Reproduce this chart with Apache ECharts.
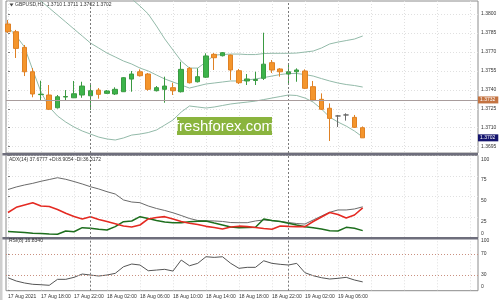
<!DOCTYPE html>
<html><head><meta charset="utf-8">
<script src="https://cdn.jsdelivr.net/npm/echarts@6/dist/echarts.min.js"></script>
<style>html,body{margin:0;padding:0;background:#fff}#c{width:500px;height:300px}</style>
</head><body><div id="c"></div>
<script>
// ---------- data ----------
const headerMain = 'GBPUSD,H1  1.3710 1.3711 1.3702 1.3702';
const headerAdx = 'ADX(14) 37.6777 +DI:8.9054 -DI:36.3172';
const headerRsi = 'RSI(8) 16.8340';
const watermark = 'freshforex.com';
const timeLabels = ['17 Aug 2021','17 Aug 18:00','17 Aug 22:00','18 Aug 02:00','18 Aug 06:00','18 Aug 10:00','18 Aug 14:00','18 Aug 18:00','18 Aug 22:00','19 Aug 02:00','19 Aug 06:00'];
const separatorBars = [10, 34];
const opens  = [1.37921,1.37860,1.37736,1.37543,1.37362,1.37359,1.37258,1.37343,1.37337,1.37359,1.37353,1.37398,1.37372,1.37367,1.37385,1.37485,1.37543,1.37525,1.37393,1.37404,1.37417,1.37385,1.37570,1.37464,1.37500,1.37681,1.37670,1.37675,1.37551,1.37470,1.37474,1.37491,1.37615,1.37565,1.37525,1.37543,1.37549,1.37425,1.37325,1.37254,1.37193,1.37201,1.37182,1.3710];
const closes = [1.37860,1.37728,1.37543,1.37367,1.37365,1.37246,1.37345,1.37347,1.37369,1.37430,1.37393,1.37364,1.37391,1.37404,1.37496,1.37525,1.37512,1.37404,1.37417,1.37430,1.37393,1.37562,1.37456,1.37504,1.37668,1.37654,1.37694,1.37557,1.37456,1.37486,1.37482,1.37603,1.37557,1.37543,1.37543,1.37557,1.37412,1.37319,1.37246,1.37174,1.37193,1.37201,1.37103,1.3702];
const lows   = [1.37850,1.37652,1.37509,1.37341,1.37319,1.37240,1.37252,1.37314,1.37335,1.37337,1.37240,1.37330,1.37367,1.37359,1.37383,1.37385,1.37505,1.37393,1.37387,1.37298,1.37359,1.37379,1.37450,1.37458,1.37494,1.37557,1.37664,1.37478,1.37446,1.37438,1.37438,1.37478,1.37533,1.37504,1.37454,1.37464,1.37406,1.37311,1.37240,1.36995,1.37106,1.37156,1.37098,1.3702];
const highs  = [1.37953,1.37874,1.37755,1.37572,1.37472,1.37438,1.37359,1.37398,1.37470,1.37464,1.37438,1.37414,1.37398,1.37420,1.37501,1.37549,1.37562,1.37533,1.37430,1.37504,1.37456,1.37622,1.37581,1.37570,1.37689,1.37691,1.37699,1.37679,1.37565,1.37525,1.37543,1.37852,1.37636,1.37572,1.37612,1.37570,1.37562,1.37470,1.37372,1.37293,1.37201,1.37214,1.37201,1.3711];
const bbUpper  = [1.38507,1.38522,1.38546,1.38562,1.38570,1.38570,1.38562,1.38546,1.38522,1.38491,1.38451,1.38404,1.38348,1.38285,1.38206,1.38119,1.38063,1.38000,1.37905,1.37803,1.37715,1.37628,1.37572,1.37572,1.37620,1.37675,1.37679,1.37683,1.37683,1.37679,1.37679,1.37687,1.37689,1.37689,1.37689,1.37691,1.37699,1.37707,1.37731,1.37763,1.37778,1.37790,1.37802,1.37826];
const bbMiddle = [1.38325,1.38269,1.38214,1.38158,1.38103,1.38047,1.37992,1.37937,1.37881,1.37826,1.37770,1.37731,1.37691,1.37660,1.37628,1.37604,1.37572,1.37549,1.37517,1.37486,1.37462,1.37438,1.37414,1.37430,1.37446,1.37454,1.37462,1.37470,1.37470,1.37478,1.37486,1.37497,1.37509,1.37521,1.37529,1.37529,1.37521,1.37509,1.37489,1.37470,1.37454,1.37442,1.37434,1.37422];
const bbLower  = [1.37897,1.37826,1.37739,1.37557,1.37383,1.37264,1.37193,1.37145,1.37106,1.37074,1.37050,1.37026,1.37011,1.37003,1.37019,1.37042,1.37050,1.37062,1.37082,1.37121,1.37161,1.37224,1.37272,1.37264,1.37256,1.37264,1.37276,1.37288,1.37296,1.37303,1.37311,1.37323,1.37335,1.37347,1.37359,1.37355,1.37335,1.37303,1.37248,1.37184,1.37145,1.37113,1.37074,1.37026];
const adx     = [58.6,61.7,64.1,66.1,68.6,70.7,72.9,71.0,68.3,65.3,62.0,59.3,56.0,53.2,46.0,43.5,42.7,38.7,35.7,33.3,30.5,27.2,23.6,21.2,20.8,20.6,20.0,18.7,18.5,18.5,20.6,21.8,20.9,20.0,18.7,17.5,16.9,21.8,26.6,31.1,33.9,33.9,35.1,37.7];
const minusDI = [30.8,37.1,39.9,42.7,38.7,38.1,34.5,29.9,26.0,23.0,25.8,22.4,20.0,17.3,14.5,13.3,15.7,23.0,24.8,25.8,23.0,20.0,17.8,16.3,14.1,12.7,10.9,13.3,14.3,13.8,12.7,11.5,10.5,14.5,14.1,13.8,13.7,20.0,25.4,30.8,28.4,24.2,27.8,36.3];
const plusDI  = [7.9,7.3,6.7,5.7,5.3,4.8,4.5,8.5,7.6,12.5,11.7,10.6,9.7,13.7,19.7,20.6,25.8,23.6,21.2,19.3,18.5,18.5,19.7,20.2,20.6,18.1,15.7,13.3,12.5,12.7,12.9,23.0,21.2,20.0,17.8,15.7,13.7,12.3,10.9,8.8,8.5,12.9,11.7,8.9];
const rsi     = [24.6,18.5,14.7,12.2,11.4,10.3,21.7,21.7,25.5,31.8,29.9,28.0,29.9,33.1,45.7,50.9,49.0,38.1,39.4,40.8,37.5,58.5,47.6,52.2,64.8,63.6,64.8,52.2,42.7,44.6,44.6,57.1,52.2,50.3,49.0,52.2,34.3,28.6,24.8,22.3,23.6,25.5,20.4,16.8];
const priceTicks = [1.3695,1.3710,1.3725,1.3740,1.3755,1.3770,1.3785,1.3800];
const adxTicks = [0,25,50,75,100];
const rsiTicks = [0,30,70,100];
const rsiLevels = [30,70];
const hLinePrice = 1.3732;

// ---------- layout ----------
const FONT = '"Liberation Sans", Arial, sans-serif';
const GL = 6, GR = 22, PLOT_R = 478;
const xMin = -0.2425, xMax = 56.976;
const grids = [
  {top: 1, height: 152},
  {top: 155.3, height: 82.7},
  {top: 238.3, height: 52.4}
].map(g => Object.assign({left: GL, right: GR, show: true, borderColor: '#8c8c8c', borderWidth: 1}, g));

const xTickVals = [];
for (let v = 0; v <= 56; v += 4) xTickVals.push(v);
const xLabelVals = timeLabels.map((_, i) => i * 4);

const xAxes = [0, 1, 2].map(i => ({
  type: 'value', gridIndex: i, min: xMin, max: xMax,
  axisLine: {show: false},
  axisTick: {show: false, customValues: xTickVals},
  axisLabel: {show: i === 2, customValues: xLabelVals,
    formatter: v => timeLabels[Math.round(v / 4)],
    fontSize: 5, color: '#333', align: 'left', margin: 3, fontFamily: FONT},
  splitLine: {show: true, lineStyle: {color: '#e0e0e0', type: [1, 2], width: 1}}
}));

function nearestLabel(ticks, pos) {
  return v => {
    let best = 0;
    for (let k = 1; k < pos.length; k++) if (Math.abs(pos[k] - v) < Math.abs(pos[best] - v)) best = k;
    return String(ticks[best]);
  };
}
const adxPx = 82.7 / 100;
const adxLabelPos = adxTicks.map(t => t === 0 ? t + 4.7 / adxPx : t - 4 / adxPx);
const rsiPx = 52.4 / 100;
const rsiLabelPos = rsiTicks.map(t => t === 0 ? t + 4 / rsiPx : (t === 100 ? t - 2 / rsiPx : t));

const yAxes = [
  {type: 'value', gridIndex: 0, position: 'right', min: 1.36900, max: 1.38103,
    axisLine: {show: false},
    axisTick: {show: true, length: 2, customValues: priceTicks, lineStyle: {color: '#808080'}},
    axisLabel: {customValues: priceTicks, formatter: v => v.toFixed(4), fontSize: 5, color: '#333', margin: 3, fontFamily: FONT},
    splitLine: {show: true, lineStyle: {color: '#e0e0e0', type: [1, 2]}}},
  {type: 'value', gridIndex: 1, position: 'right', min: 0, max: 100,
    axisLine: {show: false},
    axisTick: {show: true, length: 2, customValues: adxTicks, lineStyle: {color: '#808080'}},
    axisLabel: {customValues: adxLabelPos, formatter: nearestLabel(adxTicks, adxLabelPos), fontSize: 5, color: '#333', margin: 3, fontFamily: FONT},
    splitLine: {show: true, lineStyle: {color: '#e0e0e0', type: [1, 2]}}},
  {type: 'value', gridIndex: 2, position: 'right', min: 0, max: 100,
    axisLine: {show: false},
    axisTick: {show: true, length: 2, customValues: rsiTicks, lineStyle: {color: '#808080'}},
    axisLabel: {customValues: rsiLabelPos, formatter: nearestLabel(rsiTicks, rsiLabelPos), fontSize: 5, color: '#333', margin: 3, fontFamily: FONT},
    splitLine: {show: false}}
];

const sepLines = separatorBars.map(b => ({xAxis: b, lineStyle: {color: '#7a7a7a', type: [2, 2], width: 1}, label: {show: false}}));
const pts = arr => arr.map((v, i) => [i, v]);
const lineS = (arr, gi, color, width, extra) => Object.assign({
  type: 'line', xAxisIndex: gi, yAxisIndex: gi, data: pts(arr), showSymbol: false, symbol: 'none',
  lineStyle: {color, width}, silent: true, animation: false, z: 3
}, extra || {});
const mlBase = {silent: true, symbol: ['none', 'none'], animation: false, precision: 6};

const candleData = opens.map((o, i) => [i, o, closes[i], lows[i], highs[i]]);
const lastClose = closes[closes.length - 1];
const priceLabel = (bg) => ({show: true, position: 'end', distance: 0, formatter: p => Number(p.value).toFixed(4),
  backgroundColor: bg, color: '#fff', fontSize: 5, padding: [1, 3, 1, 2], fontFamily: FONT});

const series = [
  {type: 'candlestick', xAxisIndex: 0, yAxisIndex: 0, data: candleData,
    encode: {x: 0, y: [1, 2, 3, 4]}, barWidth: 5, animation: false, z: 4,
    itemStyle: {color: '#3cb44a', color0: '#f4952c', borderColor: '#3a9a42', borderColor0: '#df8124', borderColorDoji: '#6a6a6a', borderWidth: 1},
    markLine: Object.assign({data: sepLines}, mlBase)},
  lineS(bbUpper, 0, '#93baa9', 1),
  lineS(bbMiddle, 0, '#93baa9', 1, {markLine: Object.assign({
    data: [
      {yAxis: hLinePrice, lineStyle: {color: '#a89c9c', type: 'solid', width: 1}, label: priceLabel('#c47442')},
      {yAxis: lastClose, lineStyle: {color: 'rgba(0,0,0,0)', width: 1}, label: priceLabel('#14146e')}
    ]}, mlBase)}),
  lineS(bbLower, 0, '#93baa9', 1),
  lineS(adx, 1, '#6a6a6a', 1, {markLine: Object.assign({data: sepLines}, mlBase)}),
  lineS(plusDI, 1, '#1d6e1d', 1.5),
  lineS(minusDI, 1, '#e42a22', 1.6),
  lineS(rsi, 2, '#555555', 1, {markLine: Object.assign({
    data: sepLines.concat(rsiLevels.map(l => ({yAxis: l, lineStyle: {color: '#c99080', type: [1, 2], width: 1}, label: {show: false}})))}, mlBase)})
];

const graphic = [
  {type: 'rect', shape: {x: 0, y: 153, width: PLOT_R, height: 2.5}, style: {fill: '#6e6e7c'}, z: 50},
  {type: 'rect', shape: {x: 0, y: 237, width: PLOT_R, height: 2.5}, style: {fill: '#6e6e7c'}, z: 50},
  {type: 'rect', shape: {x: 0, y: 0, width: 2.5, height: 300}, style: {fill: '#cfcfcf'}, z: 50},
  {type: 'polygon', shape: {points: [[9.5, 3.5], [13.5, 3.5], [11.5, 6.5]]}, style: {fill: '#444'}, z: 50},
  {type: 'text', x: 15, y: 5, style: {text: headerMain, fill: '#333', font: '5px ' + FONT, verticalAlign: 'middle'}, z: 50},
  {type: 'text', x: 9, y: 160, style: {text: headerAdx, fill: '#333', font: '5px ' + FONT, verticalAlign: 'middle'}, z: 50},
  {type: 'text', x: 9, y: 241, style: {text: headerRsi, fill: '#333', font: '5px ' + FONT, verticalAlign: 'middle'}, z: 50},
  {type: 'rect', shape: {x: 177, y: 117, width: 95, height: 18}, style: {fill: '#8ab43e'}, z: 60},
  {type: 'text', x: 224.5, y: 126.5, style: {text: watermark, fill: '#fff', font: '15px ' + FONT, align: 'center', verticalAlign: 'middle'}, z: 61}
];

const chart = echarts.init(document.getElementById('c'), null, {renderer: 'canvas', width: 500, height: 300});
chart.setOption({
  animation: false, backgroundColor: '#fff',
  grid: grids, xAxis: xAxes, yAxis: yAxes, series, graphic
});
</script></body></html>
